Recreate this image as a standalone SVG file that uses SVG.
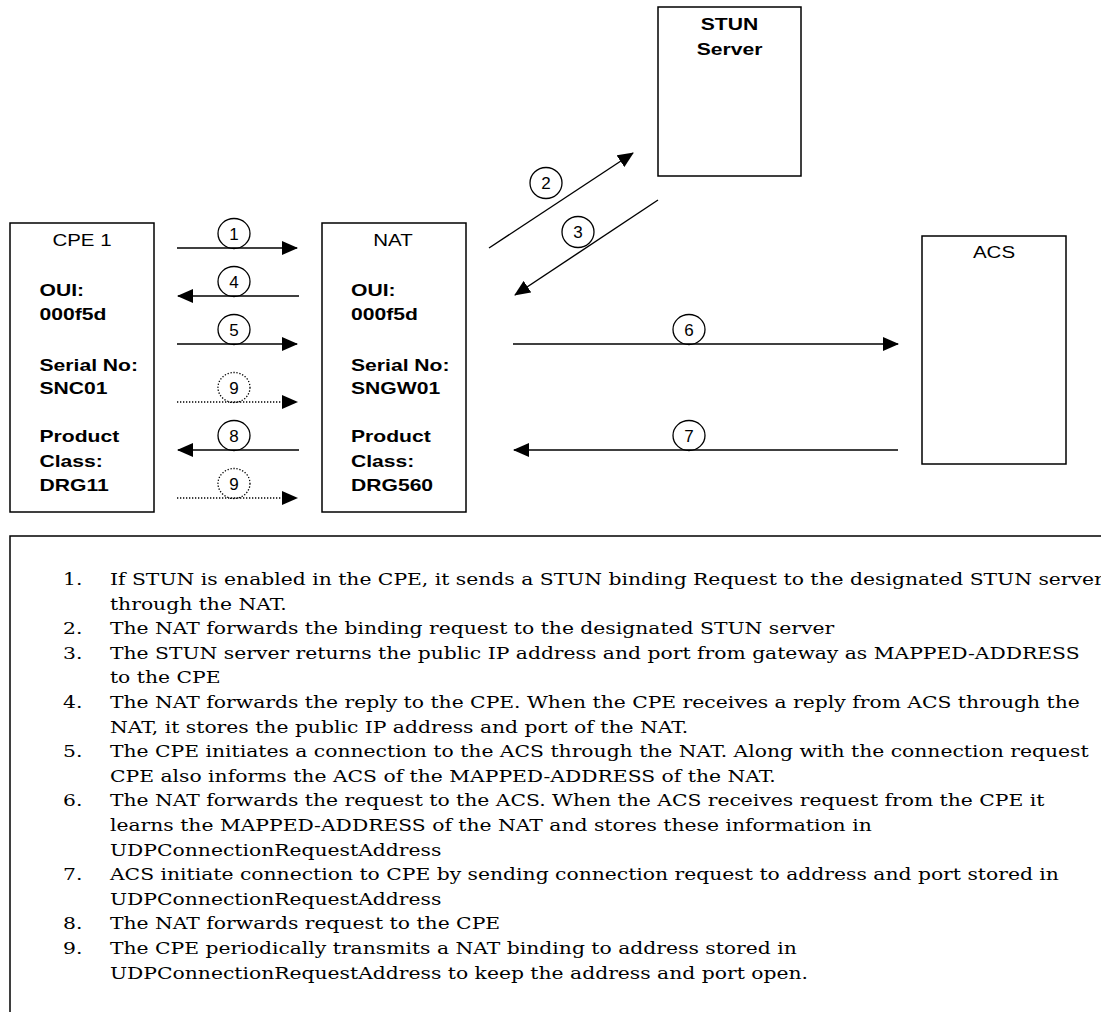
<svg xmlns="http://www.w3.org/2000/svg" width="1101" height="1012" viewBox="0 0 1101 1012">
<style>
.box{fill:#fff;stroke:#000;stroke-width:1.5}
.lbl{font-family:"Liberation Sans",Arial,sans-serif;font-size:16px;fill:#000}
.b{font-weight:bold;font-size:16.5px}
.ln{fill:none;stroke:#000;stroke-width:1.4}
.dot{stroke-dasharray:1.3 1.7}
.cir{fill:none;stroke:#000;stroke-width:1.3}
.num{font-family:"Liberation Sans",Arial,sans-serif;font-size:17px;fill:#000;text-anchor:middle}
.desc{font-family:"DejaVu Serif","Liberation Serif",serif;font-size:16px;fill:#000}
</style>
<defs>
<marker id="ah" markerUnits="userSpaceOnUse" markerWidth="16" markerHeight="14" viewBox="0 0 16 14" refX="15" refY="7" orient="auto">
<path d="M0,0 L16,7 L0,14 z" fill="#000"/>
</marker>
</defs>

<g id="stun">
<rect class="box" x="658" y="7" width="143" height="169"/>
<g transform="translate(729.5,0) scale(1.28,1)">
<text class="lbl b" x="0" y="30" text-anchor="middle">STUN</text>
<text class="lbl b" x="0" y="55" text-anchor="middle">Server</text>
</g>
</g>

<g id="cpe1">
<rect class="box" x="10" y="223" width="144" height="289"/>
<g transform="translate(82,0) scale(1.28,1)">
<text class="lbl" x="0" y="246" text-anchor="middle">CPE 1</text>
</g>
<g transform="translate(39.5,0) scale(1.28,1)">
<text class="lbl b" x="0" y="296">OUI:</text>
<text class="lbl b" x="0" y="320">000f5d</text>
<text class="lbl b" x="0" y="371">Serial No:</text>
<text class="lbl b" x="0" y="394">SNC01</text>
<text class="lbl b" x="0" y="442">Product</text>
<text class="lbl b" x="0" y="467">Class:</text>
<text class="lbl b" x="0" y="491">DRG11</text>
</g>
</g>

<g id="nat">
<rect class="box" x="322" y="223" width="144" height="289"/>
<g transform="translate(393,0) scale(1.28,1)">
<text class="lbl" x="0" y="246" text-anchor="middle">NAT</text>
</g>
<g transform="translate(351,0) scale(1.28,1)">
<text class="lbl b" x="0" y="296">OUI:</text>
<text class="lbl b" x="0" y="320">000f5d</text>
<text class="lbl b" x="0" y="371">Serial No:</text>
<text class="lbl b" x="0" y="394">SNGW01</text>
<text class="lbl b" x="0" y="442">Product</text>
<text class="lbl b" x="0" y="467">Class:</text>
<text class="lbl b" x="0" y="491">DRG560</text>
</g>
</g>

<g id="acs">
<rect class="box" x="922" y="236" width="144" height="228"/>
<g transform="translate(994,0) scale(1.28,1)">
<text class="lbl" x="0" y="258" text-anchor="middle">ACS</text>
</g>
</g>

<g id="connectors">
<path class="ln" d="M177,248 H297" marker-end="url(#ah)"/>
<path class="ln" d="M299,296 H178" marker-end="url(#ah)"/>
<path class="ln" d="M177,344 H297" marker-end="url(#ah)"/>
<path class="ln dot" d="M177,402 H297" marker-end="url(#ah)"/>
<path class="ln" d="M299,450 H178" marker-end="url(#ah)"/>
<path class="ln dot" d="M177,498 H297" marker-end="url(#ah)"/>
<path class="ln" d="M513,344 H898" marker-end="url(#ah)"/>
<path class="ln" d="M898,450 H514" marker-end="url(#ah)"/>
<path class="ln" d="M489,248 L633,153" marker-end="url(#ah)"/>
<path class="ln" d="M658,200 L515,295" marker-end="url(#ah)"/>

<ellipse class="cir" cx="234" cy="233.5" rx="16" ry="15"/>
<text class="num" x="234" y="239.5">1</text>
<ellipse class="cir" cx="234" cy="281.5" rx="16" ry="15"/>
<text class="num" x="234" y="287.5">4</text>
<ellipse class="cir" cx="234" cy="329.5" rx="16" ry="15"/>
<text class="num" x="234" y="335.5">5</text>
<ellipse class="cir dot" cx="234" cy="387.5" rx="16" ry="15"/>
<text class="num" x="234" y="393.5">9</text>
<ellipse class="cir" cx="234" cy="435.5" rx="16" ry="15"/>
<text class="num" x="234" y="441.5">8</text>
<ellipse class="cir dot" cx="234" cy="483.5" rx="16" ry="15"/>
<text class="num" x="234" y="489.5">9</text>
<ellipse class="cir" cx="689" cy="329.5" rx="16" ry="15"/>
<text class="num" x="689" y="335.5">6</text>
<ellipse class="cir" cx="689" cy="435.5" rx="16" ry="15"/>
<text class="num" x="689" y="441.5">7</text>
<ellipse class="cir" cx="546" cy="183" rx="16" ry="15.5"/>
<text class="num" x="546" y="189">2</text>
<ellipse class="cir" cx="578" cy="232" rx="16" ry="15.5"/>
<text class="num" x="578" y="238">3</text>
</g>

<g id="notes">
<rect class="box" x="10" y="536" width="1100" height="500"/>
<g transform="scale(1.27,1)" class="desc">
<text x="49.6" y="585">1.</text>
<text x="86.6" y="585">If STUN is enabled in the CPE, it sends a STUN binding Request to the designated STUN server</text>
<text x="86.6" y="609.6">through the NAT.</text>
<text x="49.6" y="634.2">2.</text>
<text x="86.6" y="634.2">The NAT forwards the binding request to the designated STUN server</text>
<text x="49.6" y="658.8">3.</text>
<text x="86.6" y="658.8">The STUN server returns the public IP address and port from gateway as MAPPED-ADDRESS</text>
<text x="86.6" y="683.4">to the CPE</text>
<text x="49.6" y="708">4.</text>
<text x="86.6" y="708">The NAT forwards the reply to the CPE. When the CPE receives a reply from ACS through the</text>
<text x="86.6" y="732.6">NAT, it stores the public IP address and port of the NAT.</text>
<text x="49.6" y="757.2">5.</text>
<text x="86.6" y="757.2">The CPE initiates a connection to the ACS through the NAT. Along with the connection request</text>
<text x="86.6" y="781.8">CPE also informs the ACS of the MAPPED-ADDRESS of the NAT.</text>
<text x="49.6" y="806.4">6.</text>
<text x="86.6" y="806.4">The NAT forwards the request to the ACS. When the ACS receives request from the CPE it</text>
<text x="86.6" y="831">learns the MAPPED-ADDRESS of the NAT and stores these information in</text>
<text x="86.6" y="855.6">UDPConnectionRequestAddress</text>
<text x="49.6" y="880.2">7.</text>
<text x="86.6" y="880.2">ACS initiate connection to CPE by sending connection request to address and port stored in</text>
<text x="86.6" y="904.8">UDPConnectionRequestAddress</text>
<text x="49.6" y="929.4">8.</text>
<text x="86.6" y="929.4">The NAT forwards request to the CPE</text>
<text x="49.6" y="954">9.</text>
<text x="86.6" y="954">The CPE periodically transmits a NAT binding to address stored in</text>
<text x="86.6" y="978.6">UDPConnectionRequestAddress to keep the address and port open.</text>
</g>
</g>
</svg>
